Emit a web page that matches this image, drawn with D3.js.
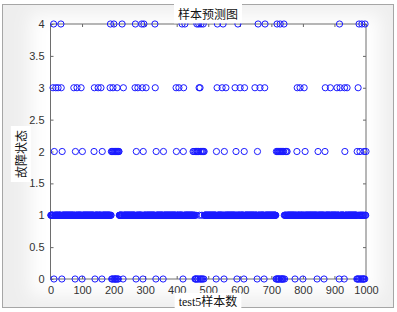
<!DOCTYPE html>
<html lang="zh">
<head>
  <meta charset="UTF-8">
  <title>样本预测图</title>
  <script src="https://cdn.jsdelivr.net/npm/d3@7/dist/d3.min.js"></script>
  <style>
    html, body { margin: 0; padding: 0; background: #fff; }
    svg { display: block; }
    .tick text { font-family: "Liberation Sans", Arial, sans-serif; font-size: 11px; fill: #333; }
    .tick line { stroke: #666; }
  </style>
</head>
<body>
  <div id="chart"></div>
  <script>
    // predicted fault state per test sample (1..1000); anything not listed is state 1
    const sampleCount = 1000;
    const state0 = [11, 36, 78, 100, 141, 163,
      194, 196, 200, 203, 205, 207, 209, 213, 215,
      230, 271, 293, 334, 357, 398, 420,
      458, 460, 462, 466, 468, 473, 476, 479, 482, 486,
      525, 550, 591, 613, 655, 677,
      715, 717, 720, 722, 724, 726, 730, 732, 734, 736, 738, 742,
      775, 800, 845, 867, 915, 931,
      971, 973, 976, 979, 983, 985, 989, 991, 993, 996];
    const state2 = [12, 37, 79, 101, 138, 164,
      193, 195, 197, 199, 202, 204, 206, 208, 210, 212, 214, 216, 217,
      272, 294, 335, 358, 399, 421,
      452, 455, 459, 463, 465, 467, 469, 475, 478, 481, 483, 485, 487,
      526, 551, 588, 614, 656,
      716, 719, 721, 723, 725, 727, 729, 731, 733, 735, 737, 739, 745, 748, 750,
      781, 807, 848, 870, 933, 972, 981, 994, 1000];
    const state3 = [8, 17, 24, 34, 74, 84, 97, 139, 151, 160, 189, 198, 211, 231,
      268, 277, 291, 303, 332, 398, 407, 422, 471, 474,
      528, 544, 556, 585, 601, 615, 648, 664, 679,
      782, 791, 804, 871, 887, 908, 918, 932, 940, 975];
    const state4 = [10, 33, 190, 201, 227, 269, 289, 296, 331, 417, 426,
      464, 470, 477, 484, 529, 547, 594, 658, 680,
      718, 728, 740, 916, 978, 987, 997];
    const xTicks = [0, 100, 200, 300, 400, 500, 600, 700, 800, 900, 1000];
    const yTicks = [0, 0.5, 1, 1.5, 2, 2.5, 3, 3.5, 4];

    const width = 397, height = 312;
    const plot = { left: 50.5, right: 366, top: 24, bottom: 279 };

    const pred = d3.range(1, sampleCount + 1).map(i => ({ i, s: 1 }));
    [[state0, 0], [state2, 2], [state3, 3], [state4, 4]].forEach(([list, s]) => {
      list.forEach(i => { pred[i - 1].s = s; });
    });

    const x = d3.scaleLinear().domain([0, 1000]).range([plot.left, plot.right]);
    const y = d3.scaleLinear().domain([0, 4]).range([plot.bottom, plot.top]);

    const svg = d3.select('#chart').append('svg')
      .attr('width', width).attr('height', height);

    const defs = svg.append('defs');
    defs.append('filter').attr('id', 'soft')
      .attr('x', '-20%').attr('y', '-20%').attr('width', '140%').attr('height', '140%')
      .append('feGaussianBlur').attr('stdDeviation', 9);

    // figure background (grey with a soft white centre) and frame
    svg.append('rect').attr('x', 2.5).attr('y', 4.5).attr('width', 391).attr('height', 303)
      .attr('fill', '#eeeeee');
    svg.append('rect').attr('x', 30).attr('y', 14).attr('width', 350).attr('height', 282)
      .attr('fill', '#fff').attr('filter', 'url(#soft)');
    svg.append('rect').attr('x', plot.left).attr('y', plot.top)
      .attr('width', plot.right - plot.left).attr('height', plot.bottom - plot.top)
      .attr('fill', '#fff');
    svg.append('rect').attr('x', 2.5).attr('y', 4.5).attr('width', 391).attr('height', 303)
      .attr('fill', 'none').attr('stroke', '#a6a6a6');

    // axes with inward ticks on all four sides
    const axisB = svg.append('g').attr('transform', `translate(0,${plot.bottom})`)
      .call(d3.axisBottom(x).tickValues(xTicks).tickSize(-3).tickPadding(7)
        .tickFormat(d3.format('d')));
    const axisT = svg.append('g').attr('transform', `translate(0,${plot.top})`)
      .call(d3.axisTop(x).tickValues(xTicks).tickSize(-3).tickFormat(''));
    const axisL = svg.append('g').attr('transform', `translate(${plot.left},0)`)
      .call(d3.axisLeft(y).tickValues(yTicks).tickSize(-3).tickPadding(6)
        .tickFormat(d3.format('~g')));
    const axisR = svg.append('g').attr('transform', `translate(${plot.right},0)`)
      .call(d3.axisRight(y).tickValues(yTicks).tickSize(-3).tickFormat(''));
    [axisB, axisT, axisL, axisR].forEach(g => g.select('.domain').remove());

    svg.append('rect').attr('x', plot.left).attr('y', plot.top)
      .attr('width', plot.right - plot.left).attr('height', plot.bottom - plot.top)
      .attr('fill', 'none').attr('stroke', '#6e6e6e').attr('stroke-width', 1);

    // markers
    svg.append('g').selectAll('circle')
      .data(pred)
      .join('circle')
      .attr('cx', d => x(d.i))
      .attr('cy', d => y(d.s))
      .attr('r', 3.1)
      .attr('fill', 'none')
      .attr('stroke', '#1a1aff')
      .attr('stroke-width', 1);

    // labels with white boxes
    const label = (text, cx, cy, rotate, family) => {
      const g = svg.append('g').attr('transform', `translate(${cx},${cy}) rotate(${rotate})`);
      const t = g.append('text')
        .attr('text-anchor', 'middle').attr('dy', '0.36em')
        .attr('font-family', family).attr('font-size', 12).attr('fill', '#111')
        .text(text);
      const b = t.node().getBBox();
      g.insert('rect', 'text')
        .attr('x', b.x - 4).attr('y', b.y - 1.5)
        .attr('width', b.width + 8).attr('height', b.height + 3)
        .attr('fill', '#fff');
    };
    label('样本预测图', 208, 14.5, 0, '"Noto Sans CJK SC", sans-serif');
    label('test5样本数', 208, 302, 0, '"Liberation Serif", "Noto Sans CJK SC", serif');
    label('故障状态', 22, 154, -90, '"Noto Sans CJK SC", sans-serif');
  </script>
</body>
</html>
